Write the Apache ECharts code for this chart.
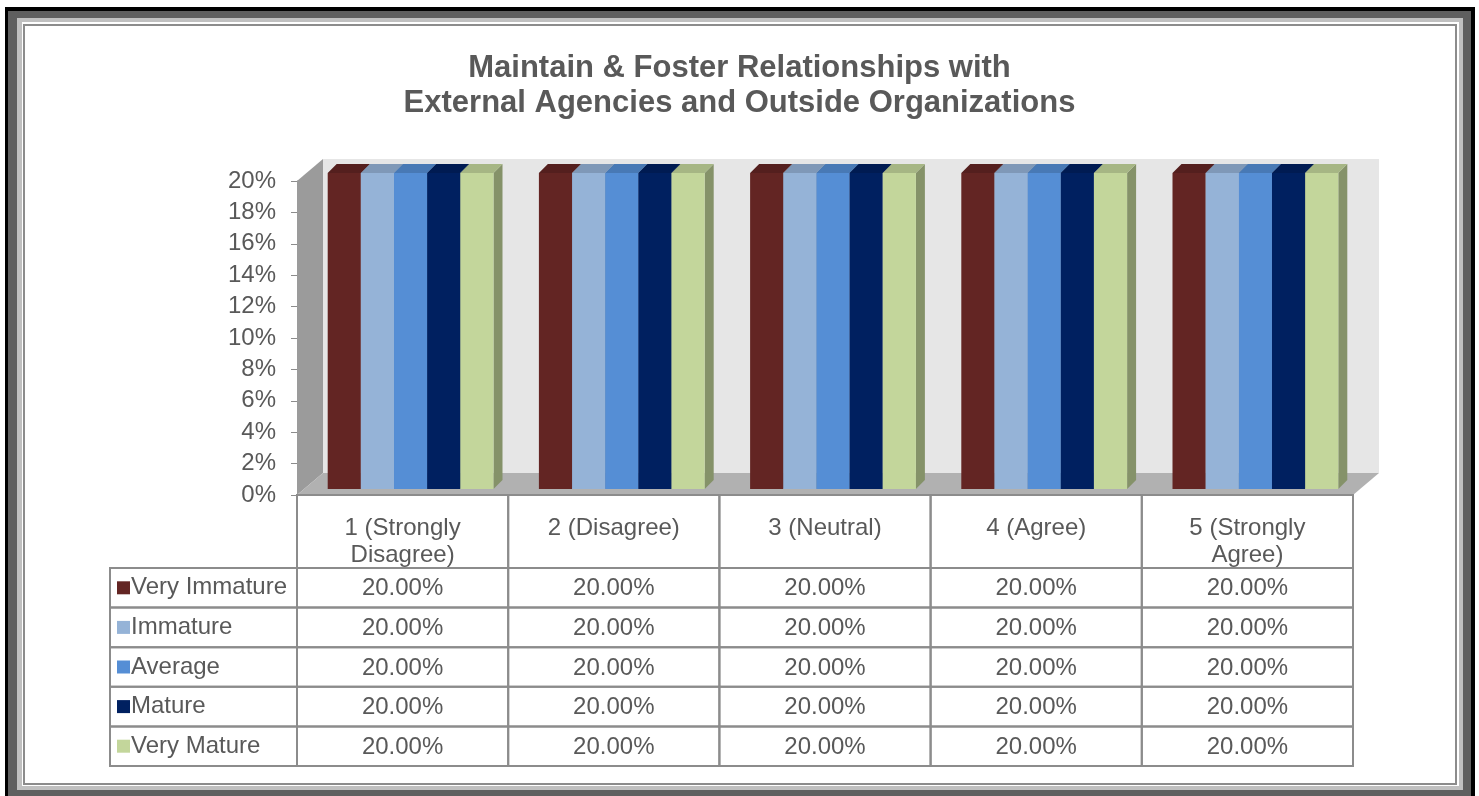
<!DOCTYPE html>
<html>
<head>
<meta charset="utf-8">
<script src="https://cdn.jsdelivr.net/npm/echarts@6/dist/echarts.min.js"></script>
<style>
  html, body { margin: 0; padding: 0; background: #fff; }
  #chart { width: 1479px; height: 796px; }
</style>
</head>
<body>
<div id="chart"></div>
<script>
// data
const categories = ['1 (Strongly\nDisagree)', '2 (Disagree)', '3 (Neutral)', '4 (Agree)', '5 (Strongly\nAgree)'];
const seriesNames = ['Very Immature', 'Immature', 'Average', 'Mature', 'Very Mature'];
const seriesColors = ['#632523', '#95B3D7', '#558ED5', '#002060', '#C3D69B'];
const veryImmature = [20, 20, 20, 20, 20];
const immature = [20, 20, 20, 20, 20];
const average = [20, 20, 20, 20, 20];
const mature = [20, 20, 20, 20, 20];
const veryMature = [20, 20, 20, 20, 20];
const seriesValues = [veryImmature, immature, average, mature, veryMature];

const FONT = '"Liberation Sans", Arial, sans-serif';
const TEXT = '#595959';
const LINE = '#8c8c8c';

// layout of the fake 3d box
const WALL_DEPTH = [26, -22];
const BAR_FRONT = [8, -6];
const BAR_DEPTH = [9, -9];
const BAR_FRAC = 0.157;
const LEGEND_LEFT = 110;

const GRID0 = { left: 297, top: 181, width: 1056, height: 314 };
const HEADER_TOP = GRID0.top + GRID0.height;
const GRID1 = { left: 297, top: 568, width: 1056, height: 198 };

function shade(hex, k) {
  const n = parseInt(hex.slice(1), 16);
  const r = Math.round(((n >> 16) & 255) * k);
  const g = Math.round(((n >> 8) & 255) * k);
  const b = Math.round((n & 255) * k);
  return `rgb(${r},${g},${b})`;
}

function renderWalls(params, api) {
  const cs = params.coordSys;
  const [dx, dy] = WALL_DEPTH;
  const x0 = cs.x, x1 = cs.x + cs.width, yt = cs.y, yb = cs.y + cs.height;
  return {
    type: 'group',
    children: [
      { type: 'rect', shape: { x: x0 + dx, y: yt + dy, width: cs.width, height: cs.height },
        style: { fill: '#e6e6e6' } },
      { type: 'polygon', shape: { points: [[x0, yt], [x0 + dx, yt + dy], [x0 + dx, yb + dy], [x0, yb]] },
        style: { fill: '#9b9b9b' } },
      { type: 'polygon', shape: { points: [[x0, yb], [x1, yb], [x1 + dx, yb + dy], [x0 + dx, yb + dy]] },
        style: { fill: '#b1b1b1' } }
    ]
  };
}

function bar3d(s) {
  return function (params, api) {
    const c = api.value(0);
    const v = api.value(1);
    const base = api.coord([c, 0]);
    const top = api.coord([c, v]);
    const band = api.size([1, 0])[0];
    const w = band * BAR_FRAC;
    const x0 = base[0] - w * seriesNames.length / 2 + s * w + BAR_FRONT[0];
    const x1 = x0 + w;
    const yb = base[1] + BAR_FRONT[1];
    const yt = top[1] + BAR_FRONT[1] - 2;
    const [dx, dy] = BAR_DEPTH;
    const col = seriesColors[s];
    return {
      type: 'group',
      children: [
        { type: 'polygon', shape: { points: [[x1, yt], [x1 + dx, yt + dy], [x1 + dx, yb + dy], [x1, yb]] },
          style: { fill: shade(col, 0.68) } },
        { type: 'polygon', shape: { points: [[x0, yt], [x1, yt], [x1 + dx, yt + dy], [x0 + dx, yt + dy]] },
          style: { fill: shade(col, 0.85) } },
        { type: 'rect', shape: { x: x0, y: yt, width: w, height: yb - yt },
          style: { fill: col } }
      ]
    };
  };
}

function renderTable(params, api) {
  const c = api.value(0);
  const s = api.value(1);
  const v = api.value(2);
  const p = api.coord([c, s]);
  const cw = api.size([1, 0])[0];
  const rh = api.size([0, 1])[1];
  const left = p[0] - cw / 2;
  const top = p[1] - rh / 2;
  const border = { fill: 'none', stroke: LINE, lineWidth: 2 };
  const children = [
    { type: 'rect', shape: { x: left, y: top, width: cw, height: rh }, style: border },
    { type: 'text', style: { text: v.toFixed(2) + '%', x: p[0], y: p[1] + 1, align: 'center',
        verticalAlign: 'middle', fontSize: 24, fontFamily: FONT, fill: TEXT } }
  ];
  if (c === 0) {
    children.push({ type: 'rect', shape: { x: LEGEND_LEFT, y: top, width: left - LEGEND_LEFT, height: rh }, style: border });
  }
  if (s === 0) {
    children.push({ type: 'rect', shape: { x: left, y: HEADER_TOP, width: cw, height: top - HEADER_TOP }, style: border });
  }
  return { type: 'group', children: children };
}

const tableData = [];
seriesValues.forEach((vals, s) => vals.forEach((v, c) => tableData.push([c, s, v])));

const richLegend = { t: { fontSize: 24, fontFamily: FONT, color: TEXT, padding: [0, 0, 0, 1] } };
seriesColors.forEach((col, i) => {
  richLegend['m' + i] = { backgroundColor: col, width: 13, height: 13 };
});

const series = [
  { type: 'custom', name: 'walls', xAxisIndex: 0, yAxisIndex: 0, renderItem: renderWalls, data: [[0, 0]], silent: true, z: 1 }
];
seriesNames.forEach((name, s) => {
  series.push({
    type: 'custom', name: name, xAxisIndex: 0, yAxisIndex: 0, z: 2 + s,
    renderItem: bar3d(s),
    encode: { x: 0, y: 1 },
    data: seriesValues[s].map((v, c) => [c, v])
  });
});
series.push({
  type: 'custom', name: 'table', xAxisIndex: 1, yAxisIndex: 1, z: 10,
  renderItem: renderTable, encode: { x: 0, y: 1 }, data: tableData, clip: false
});

const chart = echarts.init(document.getElementById('chart'));
chart.setOption({
  animation: false,
  backgroundColor: '#fff',
  title: {
    text: 'Maintain & Foster Relationships with\nExternal Agencies and Outside Organizations',
    left: 'center', top: 46,
    textStyle: { fontSize: 31, fontWeight: 'bold', fontFamily: FONT, color: TEXT, lineHeight: 35 }
  },
  graphic: [
    { type: 'rect', z: -10, shape: { x: 5, y: 7, width: 1470, height: 800 }, style: { fill: '#000' } },
    { type: 'rect', z: -9, shape: { x: 8, y: 11, width: 1463, height: 790 }, style: { fill: '#5f5f5f' } },
    { type: 'rect', z: -8, shape: { x: 17, y: 18, width: 1446, height: 772 }, style: { fill: '#c0c0c0' } },
    { type: 'rect', z: -7, shape: { x: 22, y: 22, width: 1437, height: 764 }, style: { fill: '#fff' } },
    { type: 'rect', z: -6, shape: { x: 24, y: 25, width: 1432, height: 759 }, style: { fill: '#fff', stroke: LINE, lineWidth: 2 } }
  ],
  grid: [
    Object.assign({ containLabel: false }, GRID0),
    Object.assign({ containLabel: false }, GRID1)
  ],
  xAxis: [
    {
      type: 'category', gridIndex: 0, data: categories,
      axisLine: { show: false }, axisTick: { show: false },
      axisLabel: { verticalAlign: 'top', margin: 20, fontSize: 24, lineHeight: 27, fontFamily: FONT, color: TEXT, interval: 0 }
    },
    {
      type: 'category', gridIndex: 1, data: categories, show: false
    }
  ],
  yAxis: [
    {
      type: 'value', gridIndex: 0, min: 0, max: 20, interval: 2,
      axisLine: { show: true, lineStyle: { color: LINE, width: 1 } },
      axisTick: { show: true, length: 6, lineStyle: { color: LINE } },
      splitLine: { show: false },
      axisLabel: { formatter: '{value}%', margin: 21, fontSize: 24, fontFamily: FONT, color: TEXT }
    },
    {
      type: 'category', gridIndex: 1, data: seriesNames, inverse: true,
      axisLine: { show: false }, axisTick: { show: false },
      axisLabel: {
        align: 'left', margin: 297 - 117,
        formatter: (val, i) => `{m${i}|}{t|${val}}`,
        rich: richLegend
      }
    }
  ],
  series: series
});
</script>
</body>
</html>
